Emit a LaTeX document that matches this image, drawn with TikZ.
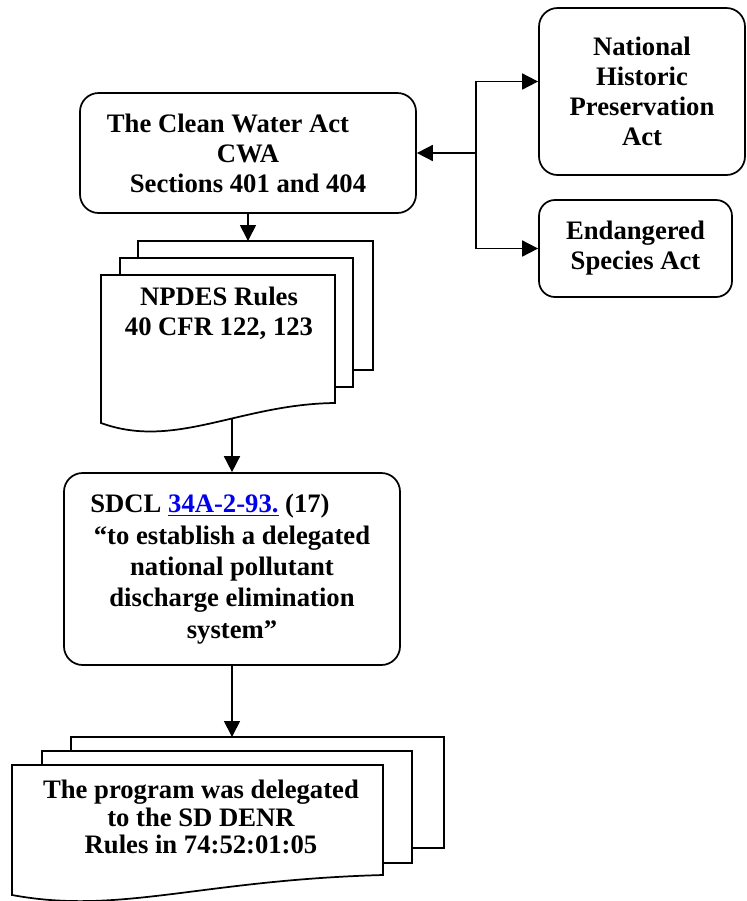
\documentclass[tikz,border=0pt]{standalone}
\usepackage{fontspec}
\setmainfont{Liberation Serif}
\usetikzlibrary{arrows.meta}
\definecolor{linkblue}{RGB}{0,0,238}
\tikzset{act node/.style={draw,rounded corners=14pt,line width=1.3pt,align=center,inner sep=0pt,
                          font=\bfseries\fontsize{20}{22.5}\selectfont},
         doc text/.style={align=center,inner sep=0pt,font=\bfseries\fontsize{20}{22.5}\selectfont},
         sheet/.style={draw,fill=white,line width=1.3pt},
         link/.style={line width=1.3pt,-{Triangle[length=12pt,width=12pt]}}
            }

\begin{document}
\begin{tikzpicture}[x=0.75pt,y=-0.75pt]
    \useasboundingbox (0,0) rectangle (747,901);

    \node[act node,minimum width=252pt,minimum height=90pt] (cwa) at (248,153)
        {The Clean Water Act\hspace*{30pt}\\CWA\\Sections 401 and 404};
    \node[act node,minimum width=154.5pt,minimum height=125.25pt] (nhpa) at (642,91.5)
        {National\\Historic\\Preservation\\Act};
    \node[act node,rounded corners=12pt,minimum width=144.75pt,minimum height=72.75pt] (esa) at (635.5,248.5)
        {Endangered\\Species Act};

    \draw[sheet] (138,241) rectangle (373,370);
    \draw[sheet] (120,258) rectangle (353,387);
    \draw[sheet] (101,275) -- (335,275) -- (335,403) .. controls (240,404) and (175,450) .. (101,423) -- cycle;
    \node[doc text] (npdes) at (219,313) {NPDES Rules\\40 CFR 122, 123};
    \coordinate (npdes in) at (248,241);
    \coordinate (npdes out) at (232,419);

    \node[act node,minimum width=252pt,minimum height=144pt,font=\bfseries\fontsize{20}{23.5}\selectfont] (sdcl) at (232,569)
        {SDCL \textcolor{linkblue}{\underline{34A-2-93.}} (17)\hspace*{33pt}\\``to establish a delegated\\national pollutant\\discharge elimination\\system''};

    \draw[sheet] (71,737) rectangle (444,848);
    \draw[sheet] (42,751) rectangle (412,863);
    \draw[sheet] (12,765) -- (383,765) -- (383,875) .. controls (200,880) and (120,915) .. (12,895) -- cycle;
    \node[doc text,font=\bfseries\fontsize{20}{20.6}\selectfont] (denr) at (201,817)
        {The program was delegated\\to the SD DENR\\Rules in 74:52:01:05};
    \coordinate (denr in) at (232,737);

    \coordinate (hub) at (476,153);

    \draw[link] (cwa.south) -- (npdes in);
    \draw[link] (npdes out) -- (sdcl.north);
    \draw[link] (sdcl.south) -- (denr in);
    \draw[link] (hub) -- (cwa.east);
    \draw[link] (hub) |- ([yshift=7.5pt]nhpa.west);
    \draw[link] (hub) |- (esa.west);
\end{tikzpicture}
\end{document}
